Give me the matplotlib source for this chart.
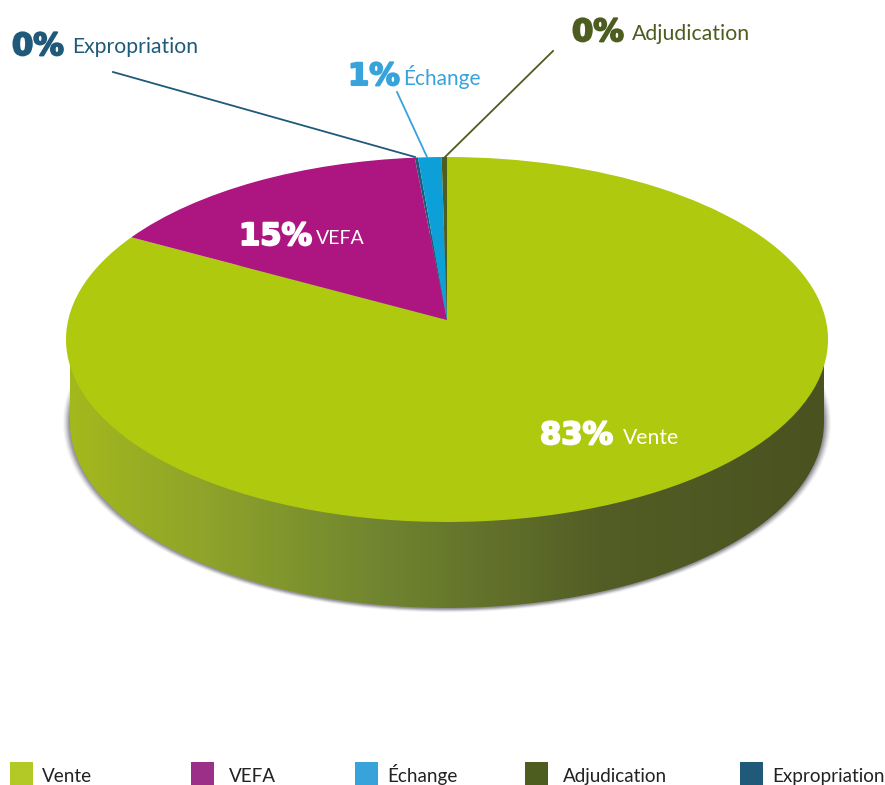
import numpy as np
import matplotlib
matplotlib.use("Agg")
import matplotlib.pyplot as plt
import matplotlib.patheffects as pe
from matplotlib.colors import LinearSegmentedColormap
from matplotlib.patches import Ellipse, Polygon, Rectangle
from matplotlib.transforms import Transform

categories = ["Vente", "VEFA", "Expropriation", "Échange", "Adjudication"]
values = [83.0, 15.5, 0.15, 1.1, 0.25]
pie_colors = ["#AFC90E", "#AD1680", "#1F5A7A", "#0C9FD8", "#4D5D20"]
percent_labels = ["83%", "15%", "0%", "1%", "0%"]
legend_order = ["Vente", "VEFA", "Échange", "Adjudication", "Expropriation"]
legend_colors = ["#B2C926", "#9C2F88", "#38A2DA", "#4D5D20", "#1F5A7A"]

FONT = "Lato"
BOLD = "DejaVu Sans"

fig = plt.figure(figsize=(8.85, 7.85), dpi=100, facecolor="white")
ax = fig.add_axes([0, 0, 1, 1])

wedges, _ = ax.pie(values, colors=pie_colors, startangle=90, counterclock=False,
                   wedgeprops={"linewidth": 0})
ax.set_aspect("auto")
ax.set_xlim(0, 885)
ax.set_ylim(785, 0)
ax.axis("off")

AX, AY = 447.0, 320.0
UP, DOWN = 163.0, 202.0
A = 2 / (1 / UP + 1 / DOWN)
K = A / UP - 1
C = 381.0 * np.sqrt(1 - K ** 2)


class Perspective(Transform):
    input_dims = 2
    output_dims = 2
    is_affine = False
    has_inverse = False

    def transform_non_affine(self, values):
        v = np.asarray(values, dtype=float)
        w = 1 + K * v[:, 1]
        return np.column_stack([AX + C * v[:, 0] / w, AY - A * v[:, 1] / w])


for w in wedges:
    w.set_transform(Perspective() + ax.transData)
    w.set_zorder(5)

# Side wall geometry
top_cy, lower_cy = 339.5, 422.0
t_lo = np.radians(np.linspace(180, 360, 200))
lower_a, lower_b = 377.0, 186.0
lx = 447 + lower_a * np.cos(t_lo)
ly = lower_cy - lower_b * np.sin(t_lo)
wall = np.vstack([[[70, top_cy]], np.column_stack([lx, ly]), [[824, top_cy]]])

# Soft shadow
for i, alpha in zip(range(7, 0, -1), [0.05, 0.07, 0.09, 0.12, 0.15, 0.18, 0.2]):
    ax.add_patch(Ellipse((447, lower_cy + 0.5), 2 * (lower_a + i * 1.0), 2 * (lower_b + i * 0.55),
                         fc="#55505f", ec="none", alpha=alpha, zorder=1))
ax.add_patch(Rectangle((55, top_cy), 790, 40, fc="white", ec="none", zorder=1.5))

stops = [(0.0, "#A4B91C"), (0.17, "#90A529"), (0.41, "#708530"),
         (0.57, "#616F2A"), (0.70, "#525E25"), (1.0, "#4A5220")]
cmap = LinearSegmentedColormap.from_list("wall", stops)
img = ax.imshow(np.linspace(0, 1, 256).reshape(1, -1), cmap=cmap, aspect="auto",
                extent=(66, 829, 620, 330), zorder=3)
clip = Polygon(wall, closed=True, transform=ax.transData, fc="none", ec="none")
ax.add_patch(clip)
img.set_clip_path(clip)
ax.set_xlim(0, 885)
ax.set_ylim(785, 0)

# Leader lines
ax.plot([113, 415], [72, 157], color="#1F5A7A", lw=1.3, zorder=6)
ax.plot([397, 427], [92, 157], color="#38A2DA", lw=1.3, zorder=6)
ax.plot([553, 445], [51, 157], color="#4D5D20", lw=1.3, zorder=6)

# Annotations: (category index, big x, big y, label x, label y, colour, label size)
placed = [
    (0, 540, 444, 623, 444, "white", 15.2),
    (1, 239, 245, 316, 244, "white", 14.0),
    (2, 12, 55, 72, 53, "#1F5A7A", 15.2),
    (3, 348, 85, 403, 85, "#38A2DA", 15.0),
    (4, 572, 41, 632, 40, "#4D5D20", 15.3),
]
for i, bx, by, tx, ty, col, size in placed:
    ax.text(bx, by, percent_labels[i], family=BOLD, weight="bold", fontsize=22,
            color=col, ha="left", va="baseline", zorder=7,
            path_effects=[pe.withStroke(linewidth=1.4, foreground=col)])
    ax.text(tx, ty, categories[i], family=FONT, fontsize=size,
            color=col, ha="left", va="baseline", zorder=7)

# Legend
sq_x = [10, 191, 355, 525, 740]
txt_x = [42, 229, 387, 563, 772]
for name, col, sx, tx in zip(legend_order, legend_colors, sq_x, txt_x):
    ax.add_patch(Rectangle((sx, 762), 23, 23, fc=col, ec="none", zorder=4, clip_on=False))
    ax.text(tx, 782, name, family=FONT, fontsize=13.6, color="#222222",
            ha="left", va="baseline", zorder=7)

fig.savefig("out.png", dpi=100, facecolor="white")
